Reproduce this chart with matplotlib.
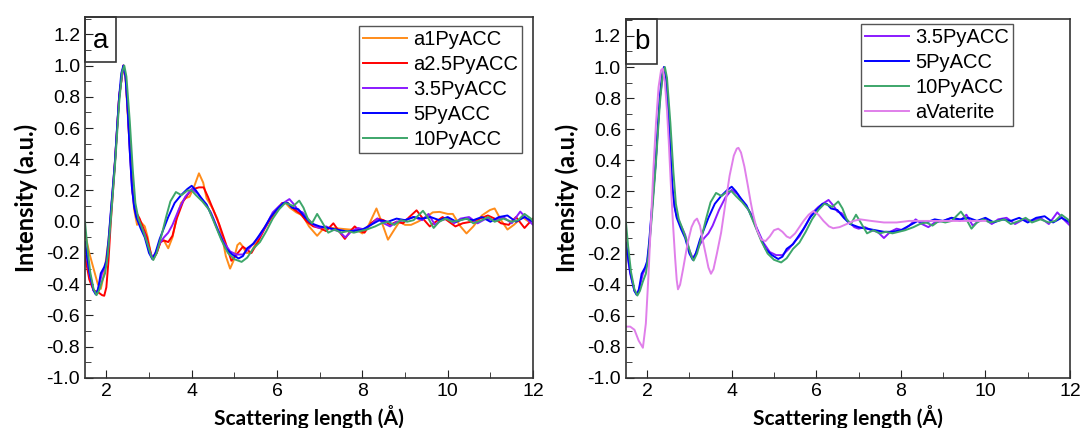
#PDF comparison of PyACC samples

#importing libaries
import matplotlib.pyplot as plt
from matplotlib.patches import Rectangle
from matplotlib.ticker import MultipleLocator

#series
x_a1 = [1.5, 1.6, 1.7, 1.8, 1.87, 1.95, 2.05, 2.1, 2.2, 2.3, 2.4, 2.45, 2.52, 2.6, 2.65, 2.72, 2.8, 2.9, 2.97, 3.05,
        3.1, 3.18, 3.28, 3.35, 3.45, 3.55, 3.65, 3.75, 3.85, 3.95, 4.05, 4.17, 4.27, 4.35, 4.5, 4.6, 4.7, 4.8, 4.9, 4.98,
        5.07, 5.13, 5.2, 5.28, 5.38, 5.5, 5.65, 5.8, 5.95, 6.1, 6.2, 6.3, 6.45, 6.6, 6.75, 6.94, 7.1, 7.3, 7.5, 7.7,
        7.85, 8.0, 8.15, 8.33, 8.45, 8.6, 8.75, 8.87, 9.0, 9.14, 9.3, 9.5, 9.65, 9.81, 10.0, 10.12, 10.3, 10.44, 10.6, 10.8,
        10.99, 11.1, 11.25, 11.4, 11.55, 11.75, 11.9, 12.0]
y_a1 = [-0.07, -0.2, -0.3, -0.4, -0.43, -0.33, -0.12, 0.03, 0.38, 0.8, 1.0, 0.92, 0.6, 0.25, 0.08, -0.02, 0.0, -0.03, -0.1, -0.22,
        -0.24, -0.2, -0.12, -0.12, -0.17, -0.1, 0.03, 0.12, 0.15, 0.16, 0.22, 0.31, 0.25, 0.15, 0.08, 0.02, -0.08, -0.22, -0.3, -0.25,
        -0.15, -0.135, -0.16, -0.2, -0.2, -0.14, -0.06, 0.0, 0.06, 0.11, 0.12, 0.09, 0.06, 0.04, -0.03, -0.09, -0.04, -0.04, -0.045, -0.05,
        -0.05, -0.075, -0.02, 0.085, 0.0, -0.115, -0.05, 0.0, -0.02, -0.02, 0.0, 0.03, 0.06, 0.063, 0.05, 0.05, -0.03, -0.075, -0.03, 0.04,
        0.075, 0.085, 0.01, -0.05, -0.02, 0.03, 0.0, 0.02]

x_a25 = [1.5, 1.6, 1.7, 1.8, 1.9, 1.95, 2.0, 2.05, 2.1, 2.2, 2.3, 2.4, 2.45, 2.55, 2.62, 2.7, 2.78, 2.85, 2.95, 3.05,
         3.1, 3.18, 3.27, 3.35, 3.45, 3.55, 3.65, 3.8, 3.95, 4.05, 4.17, 4.28, 4.38, 4.5, 4.65, 4.8, 4.93, 5.05, 5.2, 5.3,
         5.4, 5.55, 5.7, 5.85, 6.0, 6.12, 6.25, 6.4, 6.55, 6.7, 6.85, 7.0, 7.15, 7.32, 7.45, 7.59, 7.72, 7.82, 7.95, 8.05,
         8.2, 8.35, 8.5, 8.65, 8.8, 8.95, 9.1, 9.27, 9.42, 9.58, 9.72, 9.88, 10.03, 10.18, 10.35, 10.55, 10.75, 10.94, 11.1, 11.25,
         11.43, 11.6, 11.8, 12.0]
y_a25 = [-0.22, -0.37, -0.44, -0.45, -0.47, -0.474, -0.42, -0.25, -0.02, 0.37, 0.8, 1.0, 0.93, 0.5, 0.18, 0.06, 0.02, -0.03, -0.1, -0.21,
         -0.235, -0.2, -0.13, -0.12, -0.13, -0.09, 0.02, 0.13, 0.19, 0.21, 0.22, 0.22, 0.16, 0.08, -0.02, -0.14, -0.25, -0.21, -0.16, -0.18,
         -0.2, -0.13, -0.05, 0.02, 0.08, 0.12, 0.12, 0.08, 0.05, 0.0, -0.03, -0.04, -0.06, -0.01, -0.06, -0.11, -0.06, -0.03, -0.06, -0.07,
         -0.01, 0.02, 0.01, -0.02, 0.0, -0.01, 0.03, 0.073, 0.02, -0.03, 0.0, 0.03, 0.0, -0.03, -0.01, 0.0, 0.02, 0.04, 0.02, -0.01,
         -0.02, 0.03, -0.04, 0.02]

x_35 = [1.5, 1.6, 1.7, 1.76, 1.82, 1.9, 2.0, 2.05, 2.1, 2.2, 2.3, 2.4, 2.45, 2.5, 2.55, 2.6, 2.65, 2.7, 2.8, 2.9,
        3.0, 3.08, 3.15, 3.25, 3.35, 3.45, 3.55, 3.7, 3.85, 4.0, 4.15, 4.3, 4.45, 4.6, 4.75, 4.9, 5.05, 5.2, 5.35, 5.5,
        5.6, 5.75, 5.9, 6.05, 6.15, 6.29, 6.4, 6.5, 6.6, 6.75, 6.9, 7.0, 7.15, 7.3, 7.45, 7.6, 7.75, 7.9, 8.05, 8.2,
        8.35, 8.5, 8.65, 8.8, 9.0, 9.2, 9.4, 9.55, 9.7, 9.85, 10.0, 10.15, 10.3, 10.5, 10.7, 10.9, 11.1, 11.3, 11.5, 11.7,
        11.85, 12.0]
y_35 = [-0.15, -0.33, -0.44, -0.46, -0.42, -0.33, -0.27, -0.15, 0.03, 0.38, 0.8, 1.0, 0.93, 0.72, 0.45, 0.22, 0.1, 0.04, -0.02, -0.08,
        -0.18, -0.23, -0.2, -0.14, -0.1, -0.07, -0.02, 0.08, 0.16, 0.21, 0.18, 0.12, 0.06, -0.04, -0.13, -0.19, -0.21, -0.21, -0.17, -0.12,
        -0.09, -0.02, 0.06, 0.1, 0.12, 0.145, 0.11, 0.07, 0.06, 0.01, -0.03, -0.04, -0.03, -0.05, -0.06, -0.1, -0.06, -0.04, -0.05, -0.02,
        0.02, -0.01, -0.03, 0.0, 0.01, 0.03, 0.01, 0.05, -0.02, 0.01, 0.02, -0.01, 0.02, 0.03, -0.01, 0.02, 0.01, 0.03, -0.01, 0.065,
        0.02, -0.02]

x_5 = [1.5, 1.6, 1.7, 1.75, 1.8, 1.87, 1.95, 2.0, 2.05, 2.1, 2.2, 2.25, 2.3, 2.35, 2.4, 2.45, 2.5, 2.55, 2.6, 2.65,
       2.7, 2.8, 2.9, 3.0, 3.08, 3.15, 3.25, 3.35, 3.45, 3.6, 3.75, 3.9, 4.0, 4.1, 4.2, 4.35, 4.5, 4.65, 4.8, 4.95,
       5.1, 5.2, 5.3, 5.45, 5.55, 5.7, 5.85, 6.0, 6.15, 6.25, 6.35, 6.5, 6.65, 6.8, 7.0, 7.2, 7.4, 7.6, 7.8, 8.0,
       8.2, 8.4, 8.6, 8.8, 9.0, 9.2, 9.4, 9.6, 9.8, 10.0, 10.2, 10.4, 10.6, 10.8, 11.0, 11.2, 11.4, 11.6, 11.8, 12.0]
y_5 = [-0.13, -0.32, -0.44, -0.465, -0.44, -0.33, -0.29, -0.25, -0.12, 0.05, 0.38, 0.6, 0.8, 0.95, 1.0, 0.93, 0.72, 0.45, 0.22, 0.1,
       0.03, -0.04, -0.1, -0.2, -0.24, -0.2, -0.11, -0.04, 0.03, 0.12, 0.17, 0.21, 0.23, 0.2, 0.16, 0.11, 0.02, -0.08, -0.17, -0.21,
       -0.235, -0.22, -0.17, -0.14, -0.1, -0.04, 0.03, 0.08, 0.12, 0.12, 0.09, 0.08, 0.03, -0.01, -0.03, -0.04, -0.05, -0.06, -0.06, -0.05,
       -0.02, 0.01, 0.0, 0.02, 0.01, 0.03, 0.02, 0.03, 0.01, 0.03, 0.0, 0.02, 0.01, 0.03, 0.0, 0.03, 0.04, 0.0, 0.03, 0.0]

x_10 = [1.5, 1.55, 1.62, 1.7, 1.77, 1.83, 1.9, 1.97, 2.03, 2.1, 2.2, 2.3, 2.37, 2.42, 2.47, 2.55, 2.62, 2.68, 2.75, 2.85,
        2.95, 3.05, 3.1, 3.18, 3.3, 3.4, 3.5, 3.63, 3.76, 3.9, 4.0, 4.1, 4.25, 4.4, 4.55, 4.7, 4.85, 5.0, 5.17, 5.3,
        5.45, 5.6, 5.75, 5.9, 6.05, 6.19, 6.3, 6.38, 6.52, 6.62, 6.72, 6.82, 6.94, 7.05, 7.2, 7.35, 7.5, 7.65, 7.8, 7.95,
        8.1, 8.3, 8.45, 8.6, 8.75, 8.9, 9.05, 9.2, 9.42, 9.55, 9.67, 9.8, 9.95, 10.1, 10.3, 10.45, 10.6, 10.8, 10.95, 11.1,
        11.3, 11.5, 11.65, 11.8, 11.95, 12.0]
y_10 = [0.0, -0.15, -0.32, -0.43, -0.47, -0.44, -0.38, -0.33, -0.22, 0.0, 0.35, 0.76, 0.96, 1.0, 0.93, 0.64, 0.33, 0.12, 0.02, -0.05,
        -0.13, -0.22, -0.245, -0.2, -0.08, 0.03, 0.13, 0.19, 0.17, 0.2, 0.2, 0.17, 0.13, 0.08, -0.02, -0.12, -0.2, -0.24, -0.257, -0.23,
        -0.17, -0.13, -0.06, 0.02, 0.08, 0.12, 0.11, 0.1, 0.135, 0.09, 0.02, -0.01, 0.05, 0.0, -0.07, -0.05, -0.07, -0.06, -0.07, -0.06,
        -0.05, -0.03, -0.01, 0.0, -0.02, 0.01, 0.0, 0.01, 0.07, 0.02, -0.04, 0.0, 0.02, 0.0, 0.01, 0.02, -0.01, 0.01, 0.03, 0.0,
        0.02, 0.0, 0.01, 0.05, 0.02, 0.0]

x_vat = [1.5, 1.6, 1.7, 1.8, 1.9, 1.97, 2.03, 2.09, 2.15, 2.21, 2.27, 2.33, 2.37, 2.42, 2.47, 2.51, 2.56, 2.61, 2.66, 2.7,
         2.73, 2.78, 2.85, 2.96, 3.05, 3.12, 3.18, 3.25, 3.32, 3.39, 3.45, 3.51, 3.57, 3.65, 3.75, 3.85, 3.95, 4.05, 4.12, 4.16,
         4.22, 4.3, 4.38, 4.45, 4.5, 4.6, 4.7, 4.8, 4.9, 5.0, 5.1, 5.2, 5.3, 5.38, 5.5, 5.6, 5.7, 5.82, 5.93, 6.05,
         6.17, 6.3, 6.4, 6.55, 6.72, 6.88, 7.04, 7.3, 7.6, 7.9, 8.2, 8.6, 9.0, 9.4, 9.8, 10.0]
y_vat = [-0.67, -0.67, -0.69, -0.76, -0.806, -0.65, -0.35, 0.0, 0.35, 0.64, 0.87, 0.98, 0.99, 0.9, 0.72, 0.53, 0.25, 0.0, -0.22, -0.37,
         -0.43, -0.4, -0.3, -0.13, -0.03, 0.01, 0.025, -0.02, -0.12, -0.21, -0.29, -0.33, -0.3, -0.2, -0.065, 0.12, 0.3, 0.43, 0.475, 0.48,
         0.45, 0.36, 0.24, 0.13, 0.06, -0.05, -0.11, -0.12, -0.09, -0.05, -0.04, -0.06, -0.09, -0.1, -0.07, -0.03, 0.01, 0.05, 0.073, 0.05,
         0.01, -0.025, -0.037, -0.03, -0.01, 0.01, 0.02, 0.01, 0.0, 0.0, 0.01, 0.01, 0.01, 0.01, 0.01, 0.01]

#colours
c_a1 = '#FF8C1A'
c_a25 = '#FF0000'
c_35 = '#8A1AFF'
c_5 = '#0000FF'
c_10 = '#3DA66A'
c_vat = '#E07FEA'

plt.rcParams['font.family'] = ['Liberation Sans', 'DejaVu Sans']

fig = plt.figure(figsize=(10.83, 4.28), dpi=100)
ax1 = fig.add_axes([0.0785, 0.117, 0.4137, 0.843])
ax2 = fig.add_axes([0.578, 0.117, 0.410, 0.839])

def style(ax, letter):
    ax.set_xlim(1.5, 12)
    ax.set_ylim(-1.0, 1.31)
    ax.xaxis.set_major_locator(MultipleLocator(2))
    ax.xaxis.set_minor_locator(MultipleLocator(1))
    ax.yaxis.set_major_locator(MultipleLocator(0.2))
    ax.yaxis.set_minor_locator(MultipleLocator(0.1))
    ax.set_yticks([-1.0, -0.8, -0.6, -0.4, -0.2, 0.0, 0.2, 0.4, 0.6, 0.8, 1.0, 1.2])
    ax.set_yticklabels(['%.1f' % v for v in ax.get_yticks()])
    ax.tick_params(which='both', direction='in', labelsize=14, top=False, right=False, color='#222222')
    ax.tick_params(which='major', length=6)
    ax.tick_params(which='minor', length=4)
    for s in ax.spines.values():
        s.set_color('#333333')
        s.set_linewidth(1.2)
    ax.set_xlabel('Scattering length (Å)', fontsize=15, fontweight='bold', family='Lato', labelpad=4)
    ax.set_ylabel('Intensity (a.u.)', fontsize=17, fontweight='bold', family='Lato', labelpad=6)
    #panel letter box
    ax.add_patch(Rectangle((0, 0.875), 0.07, 0.125, transform=ax.transAxes, fill=False,
                           edgecolor='#333333', linewidth=1.2, clip_on=False, zorder=5))
    ax.text(0.035, 0.935, letter, transform=ax.transAxes, fontsize=20, ha='center', va='center')

lw = 1.4
ax1.plot(x_a1, y_a1, color=c_a1, lw=lw, label='a1PyACC')
ax1.plot(x_a25, y_a25, color=c_a25, lw=lw, label='a2.5PyACC')
ax1.plot(x_35, y_35, color=c_35, lw=lw, label='3.5PyACC')
ax1.plot(x_5, y_5, color=c_5, lw=lw, label='5PyACC')
ax1.plot(x_10, y_10, color=c_10, lw=lw, label='10PyACC')
style(ax1, 'a')
ax1.legend(loc='upper right', bbox_to_anchor=(0.976, 0.975), borderaxespad=0, fontsize=14.5,
           fancybox=False, edgecolor='#555555', framealpha=1, labelspacing=0.3, handlelength=2.2,
           handletextpad=0.3, borderpad=0.2)

ax2.plot(x_35, y_35, color=c_35, lw=lw, label='3.5PyACC')
ax2.plot(x_5, y_5, color=c_5, lw=lw, label='5PyACC')
ax2.plot(x_10, y_10, color=c_10, lw=lw, label='10PyACC')
ax2.plot(x_vat, y_vat, color=c_vat, lw=lw, label='aVaterite')
style(ax2, 'b')
ax2.legend(loc='upper right', bbox_to_anchor=(0.872, 0.986), borderaxespad=0, fontsize=14.5,
           fancybox=False, edgecolor='#555555', framealpha=1, labelspacing=0.3, handlelength=2.2,
           handletextpad=0.3, borderpad=0.2)

plt.savefig('out.png', dpi=100)
